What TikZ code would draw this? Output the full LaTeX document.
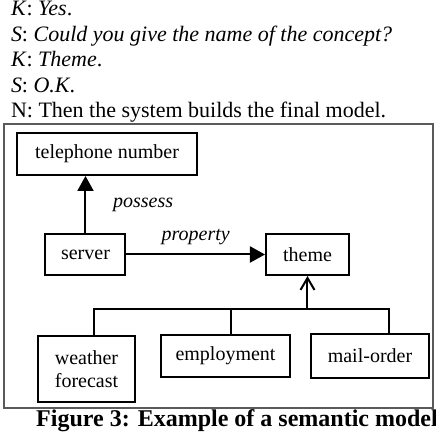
\documentclass[tikz,border=0pt]{standalone}
\usepackage{fontspec}
\setmainfont{Liberation Serif}
\usepackage{tikz}
\usetikzlibrary{arrows.meta, positioning, calc}
\definecolor{framegray}{RGB}{90,90,90}

\begin{document}
\begin{tikzpicture}[x=0.5pt, y=0.5pt, line width=1pt,
  concept/.style={draw, inner sep=0pt, font=\fontsize{10}{11.5}\selectfont, align=center},
  relname/.style={font=\fontsize{10}{12}\selectfont\itshape},
  dialog/.style={anchor=base west, inner sep=0pt, font=\fontsize{11}{13}\selectfont}]
  \useasboundingbox (0,0) rectangle (436,-432);
  % dialogue lines
  \node[dialog] (d1) at (10,-16) {\textit{K}: \textit{Yes}.};
  \node[dialog] (d2) at (10,-41.5) {\textit{S}: \textit{Could you give the name of the concept?}};
  \node[dialog] (d3) at (10,-67) {\textit{K}: \textit{Theme}.};
  \node[dialog] (d4) at (10,-92.5) {\textit{S}: \textit{O.K}.};
  \node[dialog] (d5) at (10,-118) {N: Then the system builds the final model.};
  % frame
  \draw[framegray] (4,-124) rectangle (433,-408);
  % concepts
  \node[concept, minimum width=90pt, minimum height=21pt] (tel) at (107,-154) {telephone number};
  \node[concept, minimum width=40pt, minimum height=20.5pt] (server) at (85.5,-254.5) {server};
  \node[concept, minimum width=41.5pt, minimum height=20.5pt] (theme) at (307.5,-254.5) {theme};
  \node[concept, minimum width=48.5pt, minimum height=33pt] (wf) at (86.5,-369) {weather\\forecast};
  \node[concept, minimum width=64.5pt, minimum height=21pt] (emp) at (225.5,-356) {employment};
  \node[concept, minimum width=59pt, minimum height=22pt] (mo) at (370,-356) {mail-order};
  % relations
  \draw[-{Triangle[length=7.5pt,width=8pt]}] (server.north) -- (server.north |- tel.south)
    node[relname, pos=0.5, right=10pt] (poss) {possess};
  \draw[-{Triangle[length=7.5pt,width=8pt]}] (server.east) -- (theme.west)
    node[relname, midway, above=1pt] (prop) {property};
  % is-a tree
  \coordinate (bus) at (307.5,-309);
  \draw[-{Straight Barb[length=6pt,width=7pt]}] (bus) -- (theme.south);
  \draw ([xshift=3.75pt]wf.north) |- ([xshift=9.5pt]mo.north |- bus) -- ([xshift=9.5pt]mo.north);
  \draw ([xshift=2.75pt]emp.north) -- ([xshift=2.75pt]emp.north |- bus);
  % caption
  \node[font=\fontsize{12}{14}\selectfont\bfseries] (cap) at (237,-421) {Figure 3: Example of a semantic model};
\end{tikzpicture}
\end{document}
